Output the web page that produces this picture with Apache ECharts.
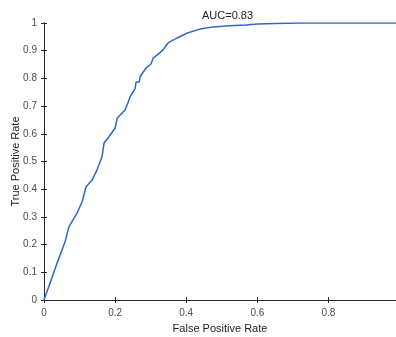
<!DOCTYPE html>
<html>
<head>
<meta charset="utf-8">
<script src="https://cdn.jsdelivr.net/npm/echarts@6/dist/echarts.min.js"></script>
<style>
  html, body { margin: 0; padding: 0; background: #fff; }
  #chart { width: 396px; height: 337px; }
</style>
</head>
<body>
<div id="chart"></div>
<script>
// ROC curve
const fpr = [0, 0.017, 0.037, 0.059, 0.070, 0.093, 0.107, 0.118, 0.135, 0.149, 0.163, 0.169, 0.180, 0.200,
  0.206, 0.228, 0.237, 0.242, 0.256, 0.259, 0.268, 0.270, 0.279, 0.290, 0.301, 0.307, 0.318, 0.335,
  0.349, 0.375, 0.403, 0.439, 0.476, 0.520, 0.569, 0.600, 0.650, 0.720, 0.850, 0.99]
const tpr = [0, 0.061, 0.134, 0.209, 0.264, 0.314, 0.354, 0.408, 0.433, 0.469, 0.516, 0.567, 0.585, 0.621,
  0.657, 0.686, 0.715, 0.733, 0.762, 0.787, 0.787, 0.805, 0.823, 0.841, 0.852, 0.874, 0.884, 0.903,
  0.928, 0.946, 0.964, 0.978, 0.986, 0.990, 0.993, 0.996, 0.998, 1.0, 1.0, 1.0]
const aucText = 'AUC=0.83'

const font = 'Liberation Sans, Arial, sans-serif'
const axisColor = '#262626'
const labelColor = '#4d4d4d'

const chart = echarts.init(document.getElementById('chart'))
const tickOnly = {
  axisLine: { show: true, lineStyle: { color: axisColor, width: 1 } },
  axisTick: { show: true, inside: true, length: 3, lineStyle: { color: axisColor } },
  splitLine: { show: false },
}
chart.setOption({
  animation: false,
  grid: { left: 44, top: 23, right: 0, bottom: 37, containLabel: false, outerBoundsMode: 'none' },
  title: {
    text: aucText,
    left: 197,
    top: 5,
    textStyle: { fontFamily: font, fontSize: 11, fontWeight: 'normal', color: '#222' },
  },
  xAxis: [
    {
      type: 'value',
      min: 0,
      max: 0.99,
      interval: 0.2,
      name: 'False Positive Rate',
      nameLocation: 'middle',
      nameGap: 23,
      nameMoveOverlap: false,
      nameTextStyle: { fontFamily: font, fontSize: 11, color: '#222' },
      ...tickOnly,
      axisLabel: {
        fontFamily: font, fontSize: 10, color: labelColor, margin: 8,
        showMaxLabel: false,
        formatter: (v) => (Math.abs(v * 5 - Math.round(v * 5)) < 1e-6 ? String(Math.round(v * 10) / 10) : ''),
      },
    },
    {
      type: 'value',
      position: 'top',
      min: 0,
      max: 0.99,
      interval: 0.2,
      ...tickOnly,
      axisLabel: { show: false },
    },
  ],
  yAxis: [
    {
      type: 'value',
      min: 0,
      max: 1,
      interval: 0.1,
      name: 'True Positive Rate',
      nameLocation: 'middle',
      nameGap: 23,
      nameMoveOverlap: false,
      nameTextStyle: { fontFamily: font, fontSize: 11, color: '#222' },
      ...tickOnly,
      axisLabel: {
        fontFamily: font, fontSize: 10, color: labelColor, margin: 7,
        formatter: (v) => String(Math.round(v * 10) / 10),
      },
    },
    {
      type: 'value',
      position: 'right',
      min: 0,
      max: 1,
      interval: 0.1,
      ...tickOnly,
      axisLabel: { show: false },
    },
  ],
  series: [
    {
      type: 'line',
      data: fpr.map((x, i) => [x, tpr[i]]),
      showSymbol: false,
      smooth: false,
      color: '#3067c6',
      lineStyle: { width: 1.5 },
      z: 3,
    },
  ],
})
</script>
</body>
</html>
